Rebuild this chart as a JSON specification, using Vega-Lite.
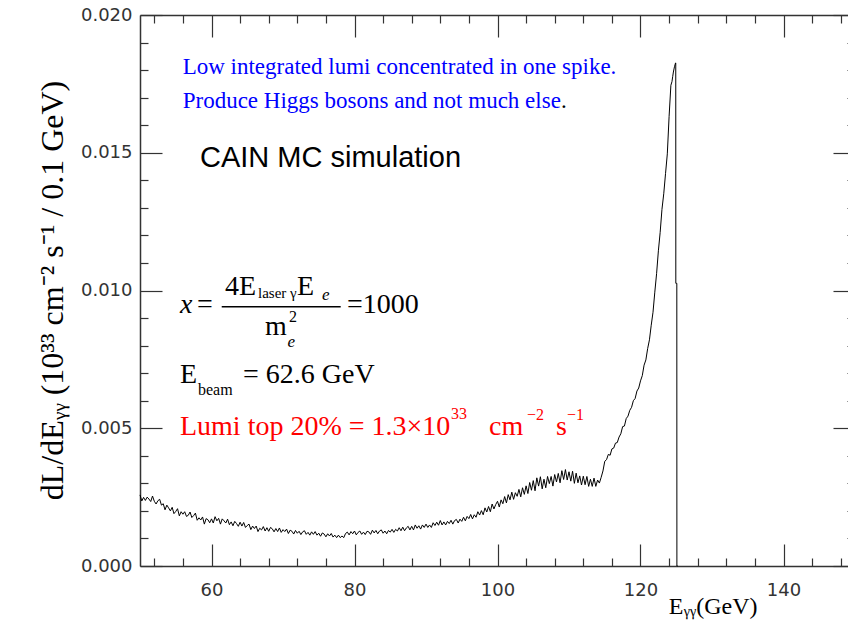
{
  "$schema": "https://vega.github.io/schema/vega-lite/v6.json",
  "width": 715,
  "height": 551,
  "autosize": {"type": "none"},
  "padding": {"left": 140, "top": 15, "right": 0, "bottom": 57},
  "background": "white",
  "config": {
    "view": {"stroke": null},
    "axis": {"grid": false, "domainColor": "#333", "tickColor": "#333", "domainWidth": 1.5, "tickWidth": 1.2}
  },
  "datasets": {
    "spectrum": [
      {"E":50.00,"L":0.00258},{"E":50.25,"L":0.00236},{"E":50.50,"L":0.00249},{"E":50.75,"L":0.00238},{"E":51.00,"L":0.00250},{"E":51.25,"L":0.00243},{"E":51.50,"L":0.00234},{"E":51.75,"L":0.00254},
      {"E":52.00,"L":0.00235},{"E":52.25,"L":0.00225},{"E":52.50,"L":0.00237},{"E":52.75,"L":0.00242},{"E":53.00,"L":0.00221},{"E":53.25,"L":0.00226},{"E":53.50,"L":0.00204},{"E":53.75,"L":0.00221},
      {"E":54.00,"L":0.00211},{"E":54.25,"L":0.00200},{"E":54.50,"L":0.00213},{"E":54.75,"L":0.00190},{"E":55.00,"L":0.00198},{"E":55.25,"L":0.00208},{"E":55.50,"L":0.00182},{"E":55.75,"L":0.00197},
      {"E":56.00,"L":0.00188},{"E":56.25,"L":0.00197},{"E":56.50,"L":0.00180},{"E":56.75,"L":0.00184},{"E":57.00,"L":0.00196},{"E":57.25,"L":0.00176},{"E":57.50,"L":0.00183},{"E":57.75,"L":0.00192},
      {"E":58.00,"L":0.00166},{"E":58.25,"L":0.00175},{"E":58.50,"L":0.00167},{"E":58.75,"L":0.00178},{"E":59.00,"L":0.00152},{"E":59.25,"L":0.00172},{"E":59.50,"L":0.00168},{"E":59.75,"L":0.00157},
      {"E":60.00,"L":0.00171},{"E":60.25,"L":0.00156},{"E":60.50,"L":0.00179},{"E":60.75,"L":0.00164},{"E":61.00,"L":0.00173},{"E":61.25,"L":0.00152},{"E":61.50,"L":0.00171},{"E":61.75,"L":0.00164},
      {"E":62.00,"L":0.00156},{"E":62.25,"L":0.00170},{"E":62.50,"L":0.00150},{"E":62.75,"L":0.00160},{"E":63.00,"L":0.00146},{"E":63.25,"L":0.00162},{"E":63.50,"L":0.00154},{"E":63.75,"L":0.00144},
      {"E":64.00,"L":0.00159},{"E":64.25,"L":0.00145},{"E":64.50,"L":0.00158},{"E":64.75,"L":0.00140},{"E":65.00,"L":0.00147},{"E":65.25,"L":0.00152},{"E":65.50,"L":0.00132},{"E":65.75,"L":0.00145},
      {"E":66.00,"L":0.00136},{"E":66.25,"L":0.00145},{"E":66.50,"L":0.00125},{"E":66.75,"L":0.00137},{"E":67.00,"L":0.00131},{"E":67.25,"L":0.00143},{"E":67.50,"L":0.00127},{"E":67.75,"L":0.00139},
      {"E":68.00,"L":0.00126},{"E":68.25,"L":0.00140},{"E":68.50,"L":0.00135},{"E":68.75,"L":0.00124},{"E":69.00,"L":0.00136},{"E":69.25,"L":0.00125},{"E":69.50,"L":0.00138},{"E":69.75,"L":0.00122},
      {"E":70.00,"L":0.00132},{"E":70.25,"L":0.00125},{"E":70.50,"L":0.00134},{"E":70.75,"L":0.00118},{"E":71.00,"L":0.00130},{"E":71.25,"L":0.00126},{"E":71.50,"L":0.00116},{"E":71.75,"L":0.00129},
      {"E":72.00,"L":0.00119},{"E":72.25,"L":0.00126},{"E":72.50,"L":0.00114},{"E":72.75,"L":0.00124},{"E":73.00,"L":0.00128},{"E":73.25,"L":0.00115},{"E":73.50,"L":0.00122},{"E":73.75,"L":0.00112},
      {"E":74.00,"L":0.00124},{"E":74.25,"L":0.00115},{"E":74.50,"L":0.00125},{"E":74.75,"L":0.00112},{"E":75.00,"L":0.00119},{"E":75.25,"L":0.00108},{"E":75.50,"L":0.00120},{"E":75.75,"L":0.00116},
      {"E":76.00,"L":0.00106},{"E":76.25,"L":0.00117},{"E":76.50,"L":0.00109},{"E":76.75,"L":0.00118},{"E":77.00,"L":0.00105},{"E":77.25,"L":0.00112},{"E":77.50,"L":0.00103},{"E":77.75,"L":0.00112},
      {"E":78.00,"L":0.00103},{"E":78.25,"L":0.00109},{"E":78.50,"L":0.00103},{"E":78.75,"L":0.00118},{"E":79.00,"L":0.00123},{"E":79.25,"L":0.00113},{"E":79.50,"L":0.00125},{"E":79.75,"L":0.00117},
      {"E":80.00,"L":0.00127},{"E":80.25,"L":0.00113},{"E":80.50,"L":0.00122},{"E":80.75,"L":0.00127},{"E":81.00,"L":0.00115},{"E":81.25,"L":0.00123},{"E":81.50,"L":0.00114},{"E":81.75,"L":0.00126},
      {"E":82.00,"L":0.00124},{"E":82.25,"L":0.00115},{"E":82.50,"L":0.00130},{"E":82.75,"L":0.00120},{"E":83.00,"L":0.00129},{"E":83.25,"L":0.00117},{"E":83.50,"L":0.00127},{"E":83.75,"L":0.00131},
      {"E":84.00,"L":0.00119},{"E":84.25,"L":0.00127},{"E":84.50,"L":0.00117},{"E":84.75,"L":0.00129},{"E":85.00,"L":0.00123},{"E":85.25,"L":0.00133},{"E":85.50,"L":0.00122},{"E":85.75,"L":0.00133},
      {"E":86.00,"L":0.00127},{"E":86.25,"L":0.00139},{"E":86.50,"L":0.00128},{"E":86.75,"L":0.00141},{"E":87.00,"L":0.00128},{"E":87.25,"L":0.00138},{"E":87.50,"L":0.00144},{"E":87.75,"L":0.00131},
      {"E":88.00,"L":0.00144},{"E":88.25,"L":0.00131},{"E":88.50,"L":0.00149},{"E":88.75,"L":0.00137},{"E":89.00,"L":0.00146},{"E":89.25,"L":0.00134},{"E":89.50,"L":0.00149},{"E":89.75,"L":0.00140},
      {"E":90.00,"L":0.00152},{"E":90.25,"L":0.00140},{"E":90.50,"L":0.00149},{"E":90.75,"L":0.00140},{"E":91.00,"L":0.00157},{"E":91.25,"L":0.00147},{"E":91.50,"L":0.00159},{"E":91.75,"L":0.00148},
      {"E":92.00,"L":0.00165},{"E":92.25,"L":0.00149},{"E":92.50,"L":0.00160},{"E":92.75,"L":0.00149},{"E":93.00,"L":0.00162},{"E":93.25,"L":0.00154},{"E":93.50,"L":0.00166},{"E":93.75,"L":0.00152},
      {"E":94.00,"L":0.00165},{"E":94.25,"L":0.00169},{"E":94.50,"L":0.00156},{"E":94.75,"L":0.00170},{"E":95.00,"L":0.00162},{"E":95.25,"L":0.00177},{"E":95.50,"L":0.00164},{"E":95.75,"L":0.00180},
      {"E":96.00,"L":0.00172},{"E":96.25,"L":0.00187},{"E":96.50,"L":0.00171},{"E":96.75,"L":0.00186},{"E":97.00,"L":0.00177},{"E":97.25,"L":0.00197},{"E":97.50,"L":0.00185},{"E":97.75,"L":0.00201},
      {"E":98.00,"L":0.00186},{"E":98.25,"L":0.00211},{"E":98.50,"L":0.00196},{"E":98.75,"L":0.00216},{"E":99.00,"L":0.00197},{"E":99.25,"L":0.00225},{"E":99.50,"L":0.00207},{"E":99.75,"L":0.00223},
      {"E":100.00,"L":0.00235},{"E":100.25,"L":0.00214},{"E":100.50,"L":0.00240},{"E":100.75,"L":0.00226},{"E":101.00,"L":0.00252},{"E":101.25,"L":0.00229},{"E":101.50,"L":0.00259},{"E":101.75,"L":0.00240},
      {"E":102.00,"L":0.00268},{"E":102.25,"L":0.00242},{"E":102.50,"L":0.00266},{"E":102.75,"L":0.00253},{"E":103.00,"L":0.00278},{"E":103.25,"L":0.00251},{"E":103.50,"L":0.00284},{"E":103.75,"L":0.00260},
      {"E":104.00,"L":0.00291},{"E":104.25,"L":0.00263},{"E":104.50,"L":0.00303},{"E":104.75,"L":0.00275},{"E":105.00,"L":0.00310},{"E":105.25,"L":0.00273},{"E":105.50,"L":0.00320},{"E":105.75,"L":0.00290},
      {"E":106.00,"L":0.00324},{"E":106.25,"L":0.00280},{"E":106.50,"L":0.00315},{"E":106.75,"L":0.00284},{"E":107.00,"L":0.00325},{"E":107.25,"L":0.00299},{"E":107.50,"L":0.00325},{"E":107.75,"L":0.00290},
      {"E":108.00,"L":0.00332},{"E":108.25,"L":0.00305},{"E":108.50,"L":0.00336},{"E":108.75,"L":0.00302},{"E":109.00,"L":0.00346},{"E":109.25,"L":0.00314},{"E":109.50,"L":0.00350},{"E":109.75,"L":0.00312},
      {"E":110.00,"L":0.00342},{"E":110.25,"L":0.00308},{"E":110.50,"L":0.00344},{"E":110.75,"L":0.00300},{"E":111.00,"L":0.00337},{"E":111.25,"L":0.00302},{"E":111.50,"L":0.00327},{"E":111.75,"L":0.00294},
      {"E":112.00,"L":0.00326},{"E":112.25,"L":0.00295},{"E":112.50,"L":0.00325},{"E":112.75,"L":0.00289},{"E":113.00,"L":0.00315},{"E":113.25,"L":0.00289},{"E":113.50,"L":0.00319},{"E":113.75,"L":0.00289},
      {"E":114.00,"L":0.00312},{"E":114.25,"L":0.00301},{"E":114.50,"L":0.00322},{"E":114.75,"L":0.00345},{"E":115.00,"L":0.00380},{"E":115.25,"L":0.00386},{"E":115.50,"L":0.00405},{"E":115.75,"L":0.00402},
      {"E":116.00,"L":0.00425},{"E":116.25,"L":0.00428},{"E":116.50,"L":0.00446},{"E":116.75,"L":0.00448},{"E":117.00,"L":0.00468},{"E":117.25,"L":0.00480},{"E":117.50,"L":0.00506},{"E":117.75,"L":0.00508},
      {"E":118.00,"L":0.00535},{"E":118.25,"L":0.00544},{"E":118.50,"L":0.00565},{"E":118.75,"L":0.00576},{"E":119.00,"L":0.00600},{"E":119.25,"L":0.00608},{"E":119.50,"L":0.00635},{"E":119.75,"L":0.00646},
      {"E":120.00,"L":0.00672},{"E":120.25,"L":0.00691},{"E":120.50,"L":0.00729},{"E":120.75,"L":0.00748},{"E":121.00,"L":0.00789},{"E":121.25,"L":0.00821},{"E":121.50,"L":0.00874},{"E":121.75,"L":0.00921},
      {"E":122.00,"L":0.00994},{"E":122.25,"L":0.01061},{"E":122.50,"L":0.01144},{"E":122.75,"L":0.01211},{"E":123.00,"L":0.01294},{"E":123.25,"L":0.01351},{"E":123.50,"L":0.01424},{"E":123.75,"L":0.01496},
      {"E":124.00,"L":0.01632},{"E":124.25,"L":0.01745},{"E":124.40,"L":0.01758},{"E":124.50,"L":0.01776},{"E":124.60,"L":0.01793},{"E":124.75,"L":0.01812},{"E":124.90,"L":0.01826},{"E":124.93,"L":0.01826},
      {"E":124.94,"L":0.01026},{"E":125.08,"L":0.01026},{"E":125.09,"L":0.0},{"E":125.20,"L":0.0}
    ]
  },
  "resolve": {"scale": {"x": "shared", "y": "shared"}, "axis": {"x": "independent", "y": "independent"}},
  "layer": [
    {
      "data": {"name": "spectrum"},
      "mark": {"type": "line", "interpolate": "linear", "color": "black", "strokeWidth": 1},
      "encoding": {
        "x": {"field": "E", "type": "quantitative",
          "scale": {"domain": [50, 150], "nice": false, "zero": false},
          "axis": {"orient": "bottom", "values": [60, 80, 100, 120, 140], "tickSize": -22, "labelPadding": 37,
            "labelFont": "DejaVu Sans", "labelFontSize": 18, "labelColor": "#333", "labelFlush": false, "labelOverlap": false,
            "title": "Eᵧᵧ(GeV)", "titleFont": "Liberation Serif", "titleFontSize": 24, "titleFontWeight": "normal", "titleColor": "black",
            "titleX": 617, "titleY": 47, "titleAlign": "right", "titleBaseline": "alphabetic", "titleAnchor": null}},
        "y": {"field": "L", "type": "quantitative",
          "scale": {"domain": [0, 0.02], "nice": false, "zero": true},
          "axis": {"orient": "left", "values": [0, 0.005, 0.01, 0.015, 0.02], "format": ".3f", "tickSize": -22, "labelPadding": 30,
            "labelFont": "DejaVu Sans", "labelFontSize": 18, "labelColor": "#333", "labelFlush": false, "labelOverlap": false,
            "title": "dL/dEᵧᵧ  (10³³ cm⁻²  s⁻¹ / 0.1 GeV)", "titleFont": "Liberation Serif", "titleFontSize": 32, "titleFontWeight": "normal", "titleColor": "black",
            "titleAngle": 270, "titleX": -78, "titleY": 275, "titleAlign": "center", "titleBaseline": "alphabetic", "titleAnchor": null}}
      }
    },
    {
      "data": {"values": [{}]},
      "mark": {"type": "text", "text": "Low integrated lumi concentrated in one spike.", "font": "Liberation Serif", "fontSize": 23, "color": "#0000ff", "align": "left", "baseline": "alphabetic"},
      "encoding": {
        "x": {"datum": 55.97, "type": "quantitative", "axis": {"orient": "bottom", "values": [52,56,64,68,72,76,84,88,92,96,104,108,112,116,124,128,132,136,144,148], "tickSize": -8, "labels": false, "domain": false, "title": null}},
        "y": {"datum": 0.01786, "type": "quantitative", "axis": {"orient": "left", "values": [0.001,0.002,0.003,0.004,0.006,0.007,0.008,0.009,0.011,0.012,0.013,0.014,0.016,0.017,0.018,0.019], "tickSize": -8, "labels": false, "domain": false, "title": null}}
      }
    },
    {
      "data": {"values": [{}]},
      "mark": {"type": "text", "text": ".", "font": "Liberation Serif", "fontSize": 23, "color": "black", "align": "left", "baseline": "alphabetic"},
      "encoding": {
        "x": {"datum": 108.88, "type": "quantitative", "axis": {"orient": "top", "values": [60, 80, 100, 120, 140], "tickSize": -22, "labels": false, "domain": true, "title": null}},
        "y": {"datum": 0.016624, "type": "quantitative", "axis": {"orient": "right", "values": [0, 0.005, 0.01, 0.015, 0.02], "tickSize": -22, "labels": false, "domain": true, "title": null}}
      }
    },
    {
      "data": {"values": [{}]},
      "mark": {"type": "text", "text": "Produce Higgs bosons and not much else", "font": "Liberation Serif", "fontSize": 23, "color": "#0000ff", "align": "left", "baseline": "alphabetic"},
      "encoding": {
        "x": {"datum": 55.97, "type": "quantitative", "axis": {"orient": "top", "values": [52,56,64,68,72,76,84,88,92,96,104,108,112,116,124,128,132,136,144,148], "tickSize": -8, "labels": false, "domain": false, "title": null}},
        "y": {"datum": 0.016624, "type": "quantitative", "axis": {"orient": "right", "values": [0.001,0.002,0.003,0.004,0.006,0.007,0.008,0.009,0.011,0.012,0.013,0.014,0.016,0.017,0.018,0.019], "tickSize": -8, "labels": false, "domain": false, "title": null}}
      }
    },
    {
      "data": {"values": [{}]},
      "mark": {"type": "text", "text": "CAIN MC simulation", "font": "Liberation Sans", "fontSize": 29, "color": "black", "align": "left", "baseline": "alphabetic"},
      "encoding": {"x": {"datum": 58.39, "type": "quantitative", "axis": null}, "y": {"datum": 0.01448, "type": "quantitative", "axis": null}}
    },
    {
      "data": {"values": [{}]},
      "mark": {"type": "text", "text": "x", "font": "Liberation Serif", "fontStyle": "italic", "fontSize": 28, "color": "black", "align": "left", "baseline": "alphabetic"},
      "encoding": {"x": {"datum": 55.59, "type": "quantitative", "axis": null}, "y": {"datum": 0.009173, "type": "quantitative", "axis": null}}
    },
    {
      "data": {"values": [{}]},
      "mark": {"type": "text", "text": "=", "font": "Liberation Serif", "fontSize": 28, "color": "black", "align": "left", "baseline": "alphabetic"},
      "encoding": {"x": {"datum": 57.97, "type": "quantitative", "axis": null}, "y": {"datum": 0.009173, "type": "quantitative", "axis": null}}
    },
    {
      "data": {"values": [{}]},
      "mark": {"type": "rule", "color": "black", "strokeWidth": 1.3},
      "encoding": {"x": {"datum": 61.43, "type": "quantitative", "axis": null}, "x2": {"datum": 78.07}, "y": {"datum": 0.00941, "type": "quantitative", "axis": null}}
    },
    {
      "data": {"values": [{}]},
      "mark": {"type": "text", "text": "4E", "font": "Liberation Serif", "fontSize": 28, "color": "black", "align": "left", "baseline": "alphabetic"},
      "encoding": {"x": {"datum": 61.89, "type": "quantitative", "axis": null}, "y": {"datum": 0.009837, "type": "quantitative", "axis": null}}
    },
    {
      "data": {"values": [{}]},
      "mark": {"type": "text", "text": "laser γ", "font": "Liberation Serif", "fontSize": 15, "color": "black", "align": "left", "baseline": "alphabetic"},
      "encoding": {"x": {"datum": 66.5, "type": "quantitative", "axis": null}, "y": {"datum": 0.009728, "type": "quantitative", "axis": null}}
    },
    {
      "data": {"values": [{}]},
      "mark": {"type": "text", "text": "E", "font": "Liberation Serif", "fontSize": 28, "color": "black", "align": "left", "baseline": "alphabetic"},
      "encoding": {"x": {"datum": 71.96, "type": "quantitative", "axis": null}, "y": {"datum": 0.009837, "type": "quantitative", "axis": null}}
    },
    {
      "data": {"values": [{}]},
      "mark": {"type": "text", "text": "e", "font": "Liberation Serif", "fontStyle": "italic", "fontSize": 17, "color": "black", "align": "left", "baseline": "alphabetic"},
      "encoding": {"x": {"datum": 75.46, "type": "quantitative", "axis": null}, "y": {"datum": 0.009655, "type": "quantitative", "axis": null}}
    },
    {
      "data": {"values": [{}]},
      "mark": {"type": "text", "text": "m", "font": "Liberation Serif", "fontSize": 28, "color": "black", "align": "left", "baseline": "alphabetic"},
      "encoding": {"x": {"datum": 67.48, "type": "quantitative", "axis": null}, "y": {"datum": 0.008385, "type": "quantitative", "axis": null}}
    },
    {
      "data": {"values": [{}]},
      "mark": {"type": "text", "text": "2", "font": "Liberation Serif", "fontSize": 16, "color": "black", "align": "left", "baseline": "alphabetic"},
      "encoding": {"x": {"datum": 70.84, "type": "quantitative", "axis": null}, "y": {"datum": 0.008857, "type": "quantitative", "axis": null}}
    },
    {
      "data": {"values": [{}]},
      "mark": {"type": "text", "text": "e", "font": "Liberation Serif", "fontStyle": "italic", "fontSize": 17, "color": "black", "align": "left", "baseline": "alphabetic"},
      "encoding": {"x": {"datum": 70.63, "type": "quantitative", "axis": null}, "y": {"datum": 0.007949, "type": "quantitative", "axis": null}}
    },
    {
      "data": {"values": [{}]},
      "mark": {"type": "text", "text": "=1000", "font": "Liberation Serif", "fontSize": 28, "color": "black", "align": "left", "baseline": "alphabetic"},
      "encoding": {"x": {"datum": 78.95, "type": "quantitative", "axis": null}, "y": {"datum": 0.009173, "type": "quantitative", "axis": null}}
    },
    {
      "data": {"values": [{}]},
      "mark": {"type": "text", "text": "E", "font": "Liberation Serif", "fontSize": 28, "color": "black", "align": "left", "baseline": "alphabetic"},
      "encoding": {"x": {"datum": 55.59, "type": "quantitative", "axis": null}, "y": {"datum": 0.006632, "type": "quantitative", "axis": null}}
    },
    {
      "data": {"values": [{}]},
      "mark": {"type": "text", "text": "beam", "font": "Liberation Serif", "fontSize": 16, "color": "black", "align": "left", "baseline": "alphabetic"},
      "encoding": {"x": {"datum": 58.11, "type": "quantitative", "axis": null}, "y": {"datum": 0.006207, "type": "quantitative", "axis": null}}
    },
    {
      "data": {"values": [{}]},
      "mark": {"type": "text", "text": "= 62.6 GeV", "font": "Liberation Serif", "fontSize": 28, "color": "black", "align": "left", "baseline": "alphabetic"},
      "encoding": {"x": {"datum": 64.41, "type": "quantitative", "axis": null}, "y": {"datum": 0.006632, "type": "quantitative", "axis": null}}
    },
    {
      "data": {"values": [{}]},
      "mark": {"type": "text", "text": "Lumi top 20% = 1.3×10", "font": "Liberation Serif", "fontSize": 28, "color": "#ff0000", "align": "left", "baseline": "alphabetic"},
      "encoding": {"x": {"datum": 55.59, "type": "quantitative", "axis": null}, "y": {"datum": 0.004755, "type": "quantitative", "axis": null}}
    },
    {
      "data": {"values": [{}]},
      "mark": {"type": "text", "text": "33", "font": "Liberation Serif", "fontSize": 16, "color": "#ff0000", "align": "left", "baseline": "alphabetic"},
      "encoding": {"x": {"datum": 93.5, "type": "quantitative", "axis": null}, "y": {"datum": 0.005336, "type": "quantitative", "axis": null}}
    },
    {
      "data": {"values": [{}]},
      "mark": {"type": "text", "text": "cm", "font": "Liberation Serif", "fontSize": 28, "color": "#ff0000", "align": "left", "baseline": "alphabetic"},
      "encoding": {"x": {"datum": 98.81, "type": "quantitative", "axis": null}, "y": {"datum": 0.004755, "type": "quantitative", "axis": null}}
    },
    {
      "data": {"values": [{}]},
      "mark": {"type": "text", "text": "−2", "font": "Liberation Serif", "fontSize": 16, "color": "#ff0000", "align": "left", "baseline": "alphabetic"},
      "encoding": {"x": {"datum": 104.13, "type": "quantitative", "axis": null}, "y": {"datum": 0.0053, "type": "quantitative", "axis": null}}
    },
    {
      "data": {"values": [{}]},
      "mark": {"type": "text", "text": "s", "font": "Liberation Serif", "fontSize": 28, "color": "#ff0000", "align": "left", "baseline": "alphabetic"},
      "encoding": {"x": {"datum": 108.18, "type": "quantitative", "axis": null}, "y": {"datum": 0.004755, "type": "quantitative", "axis": null}}
    },
    {
      "data": {"values": [{}]},
      "mark": {"type": "text", "text": "−1", "font": "Liberation Serif", "fontSize": 16, "color": "#ff0000", "align": "left", "baseline": "alphabetic"},
      "encoding": {"x": {"datum": 109.72, "type": "quantitative", "axis": null}, "y": {"datum": 0.0053, "type": "quantitative", "axis": null}}
    }
  ]
}
